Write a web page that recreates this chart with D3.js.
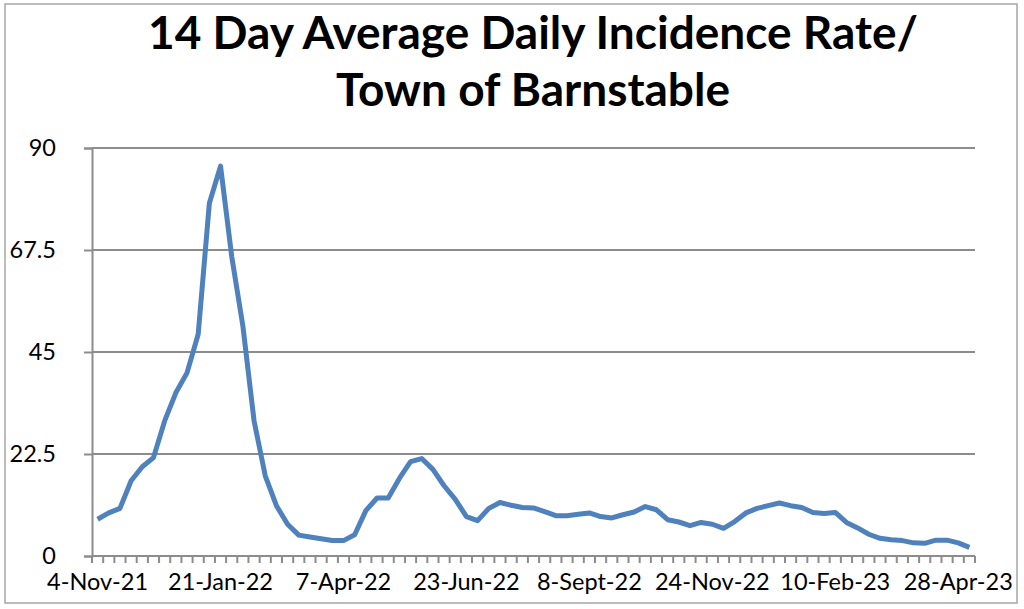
<!DOCTYPE html>
<html>
<head>
<meta charset="utf-8">
<script src="https://cdn.jsdelivr.net/npm/d3@7"></script>
<style>
  body { margin: 0; background: #fff; }
  svg { display: block; font-family: Lato, "Open Sans", sans-serif; }
</style>
</head>
<body>
<div id="chart"></div>
<script>
// weekly 14 day average daily incidence rate, 4-Nov-21 .. early May-23
const values = [
  8.1, 9.5, 10.5, 16.6, 19.7, 21.7, 29.8, 36.0, 40.4, 48.9,
  77.8, 86.0, 66.1, 50.7, 29.8, 17.7, 11.1, 7.0, 4.6, 4.2,
  3.8, 3.4, 3.4, 4.7, 10.0, 12.8, 12.8, 17.1, 20.8, 21.5,
  19.1, 15.5, 12.5, 8.7, 7.8, 10.5, 11.8, 11.2, 10.7, 10.6,
  9.8, 8.9, 8.9, 9.2, 9.5, 8.7, 8.4, 9.1, 9.7, 10.9,
  10.2, 8.0, 7.5, 6.7, 7.4, 7.0, 6.1, 7.6, 9.5, 10.5,
  11.1, 11.7, 11.1, 10.7, 9.6, 9.4, 9.6, 7.4, 6.2, 4.8,
  3.9, 3.6, 3.4, 2.9, 2.8, 3.5, 3.5, 2.9, 1.9
];
const categories = values.map((d, i) => i);

// every 11th week gets a label
const tickLabels = ["4-Nov-21", "21-Jan-22", "7-Apr-22", "23-Jun-22", "8-Sept-22", "24-Nov-22", "10-Feb-23", "28-Apr-23"];
const tickWeeks = [0, 11, 22, 33, 44, 55, 66, 77];
const yTicks = [0, 22.5, 45, 67.5, 90];

const W = 1024, H = 609;
const margin = {top: 148, right: 49, bottom: 53, left: 92};
const grey = "#8c8c8c";

const svg = d3.select("#chart").append("svg")
  .attr("width", W)
  .attr("height", H);

// chart frame
svg.append("rect")
  .attr("x", 5).attr("y", 4)
  .attr("width", 1012).attr("height", 599)
  .attr("fill", "none")
  .attr("stroke", "#a6a6a6")
  .attr("stroke-width", 1.5);

// title
svg.append("text")
  .attr("x", 533).attr("y", 49)
  .attr("text-anchor", "middle")
  .attr("font-size", 46).attr("font-weight", "bold")
  .text("14 Day Average Daily Incidence Rate/");
svg.append("text")
  .attr("x", 533).attr("y", 106)
  .attr("text-anchor", "middle")
  .attr("font-size", 46).attr("font-weight", "bold")
  .text("Town of Barnstable");

// scales
const x = d3.scaleBand()
  .domain(categories)
  .range([margin.left, W - margin.right]);
const y = d3.scaleLinear()
  .domain([0, 90])
  .range([H - margin.bottom, margin.top]);

// gridlines
svg.append("g")
  .selectAll("line")
  .data(yTicks.filter(d => d > 0))
  .join("line")
  .attr("x1", margin.left).attr("x2", W - margin.right)
  .attr("y1", d => y(d)).attr("y2", d => y(d))
  .attr("stroke", grey).attr("stroke-width", 2);

// y axis
const yAxis = svg.append("g")
  .attr("transform", `translate(${margin.left},0)`)
  .call(d3.axisLeft(y).tickValues(yTicks).tickSize(8).tickPadding(28).tickFormat(d => d));
yAxis.select(".domain").attr("stroke", grey).attr("stroke-width", 2);
yAxis.selectAll(".tick line").attr("stroke", grey).attr("stroke-width", 2);
yAxis.selectAll(".tick text")
  .attr("font-size", 23.5).attr("font-family", "Lato, sans-serif").attr("fill", "#000");

// x axis: tick marks at category boundaries
const xg = svg.append("g")
  .attr("transform", `translate(0,${y(0)})`);
xg.append("line")
  .attr("x1", margin.left).attr("x2", W - margin.right)
  .attr("stroke", grey).attr("stroke-width", 2);
xg.selectAll("line.tk")
  .data(categories.concat([categories.length]))
  .join("line")
  .attr("class", "tk")
  .attr("x1", d => margin.left + d * x.step()).attr("x2", d => margin.left + d * x.step())
  .attr("y1", 0).attr("y2", 7)
  .attr("stroke", grey).attr("stroke-width", 2);
xg.selectAll("text")
  .data(tickWeeks)
  .join("text")
  .attr("x", d => x(d) + x.bandwidth() / 2)
  .attr("y", 34)
  .attr("text-anchor", "middle")
  .attr("font-size", 23.5)
  .attr("fill", "#000")
  .text((d, i) => tickLabels[i]);

// the line
const line = d3.line()
  .x((d, i) => x(categories[i]) + x.bandwidth() / 2)
  .y(d => y(d));
svg.append("path")
  .datum(values)
  .attr("fill", "none")
  .attr("stroke", "#4f81bd")
  .attr("stroke-width", 5)
  .attr("stroke-linejoin", "round")
  .attr("d", line);
</script>
</body>
</html>
